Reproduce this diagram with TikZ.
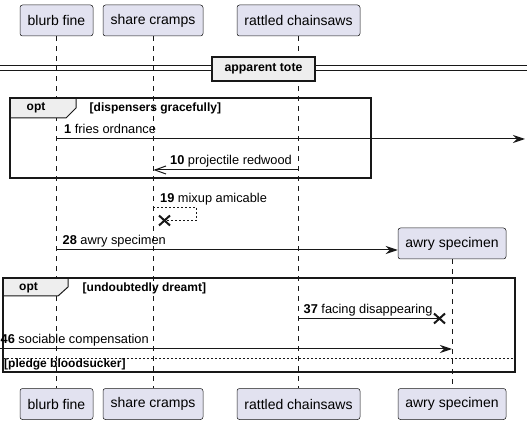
\documentclass[tikz,border=0pt]{standalone}
\usepackage{fontspec}
\setmainfont{Liberation Sans}
\usetikzlibrary{arrows.meta}
\definecolor{partfill}{HTML}{E2E2F0}
\definecolor{ink}{HTML}{181818}
\definecolor{tabfill}{HTML}{EEEEEE}
\tikzset{
 part/.style={draw=ink, fill=partfill, rounded corners=2.5pt, line width=0.5pt, minimum height=31pt, inner sep=0pt, font=\fontsize{14}{16}\selectfont},
 life/.style={draw=ink, line width=0.5pt, dash pattern=on 5pt off 5pt},
 msg/.style={draw=ink, line width=1pt},
 head/.style={-{Stealth[length=12pt,width=8pt,inset=4pt]}},
 openhead/.style={-{Straight Barb[length=11pt,width=8pt,line width=1pt]}},
 lbl/.style={anchor=base west, inner sep=0pt, font=\fontsize{12.8}{15}\selectfont},
 frame/.style={draw=ink, line width=1.5pt},
 tab/.style={draw=ink, fill=tabfill, line width=1pt},
 boldtxt/.style={inner sep=0pt, font=\bfseries\fontsize{12}{14}\selectfont},
 cross/.style={draw=ink, line width=2pt},
 selfline/.style={draw=ink, line width=0.8pt, dash pattern=on 2pt off 2pt},
 sepline/.style={draw=ink, line width=0.8pt, dash pattern=on 2pt off 2pt},
}
\begin{document}
\begin{tikzpicture}[x=1pt,y=-1pt]
\fill[white] (0,0) rectangle (531,425);
\useasboundingbox (0,0) rectangle (531,425);

% participants
\node[part, minimum width=73pt]  (bf)  at (56.5,20.5) {blurb fine};
\node[part, minimum width=100pt] (sc)  at (153,20.5) {share cramps};
\node[part, minimum width=123pt] (rc)  at (298.5,20.5) {rattled chainsaws};
\node[part, minimum width=108pt] (as)  at (452,243.5) {awry specimen};
\node[part, minimum width=73pt]  (bfb) at (56.5,404) {blurb fine};
\node[part, minimum width=100pt] (scb) at (153,404) {share cramps};
\node[part, minimum width=123pt] (rcb) at (298.5,404) {rattled chainsaws};
\node[part, minimum width=108pt] (asb) at (452,404) {awry specimen};

% lifelines
\draw[life] (bf.south) -- (bfb.north);
\draw[life] (sc.south) -- (scb.north);
\draw[life] (rc.south) -- (rcb.north);
\draw[life] (as.south) -- (asb.north);

% divider
\coordinate (dl1) at (0,66); \coordinate (dr1) at (527,66);
\coordinate (dl2) at (0,71); \coordinate (dr2) at (527,71);
\draw[ink, line width=1pt] (dl1) -- (dr1);
\draw[ink, line width=1pt] (dl2) -- (dr2);
\node[draw=ink, fill=tabfill, line width=1.5pt, minimum width=103pt, minimum height=24pt, inner sep=0pt, font=\bfseries\fontsize{12.3}{14}\selectfont] (div) at (263.5,69) {apparent tote};

% frame 1
\draw[tab] (10,98) -- (76,98) -- (76,108) -- (66,118) -- (10,118) -- cycle;
\draw[frame] (10,98) rectangle (371,178);
\node[boldtxt] (opt1) at (36,108) {opt};
\node[boldtxt, anchor=base west] (cond1) at (89.5,111.5) {[dispensers gracefully]};

% message 1
\coordinate (m1a) at (57,139); \coordinate (m1b) at (525,139);
\draw[msg, head] (m1a) -- (m1b);
\node[lbl] (l1) at (64,133.5) {\textbf{1} fries ordnance};

% message 10
\coordinate (m10a) at (299,170); \coordinate (m10b) at (153.5,170);
\draw[msg, openhead] (m10a) -- (m10b);
\node[lbl] (l10) at (170,164.3) {\textbf{10} projectile redwood};

% message 19 (self, destroyed)
\coordinate (m19a) at (153,207); \coordinate (m19b) at (196,207);
\coordinate (m19c) at (196,220.5); \coordinate (m19d) at (164.5,220.5);
\draw[selfline] (m19a) -- (m19b) -- (m19c) -- (m19d);
\draw[cross] ([shift={(-5.5,-5)}]m19d) -- ([shift={(5.5,5)}]m19d);
\draw[cross] ([shift={(-5.5,5)}]m19d) -- ([shift={(5.5,-5)}]m19d);
\node[lbl] (l19) at (160,202.3) {\textbf{19} mixup amicable};

% message 28 (create)
\coordinate (m28a) at (57,250);
\draw[msg, head] (m28a) -- (as.west |- m28a);
\node[lbl] (l28) at (62.5,245) {\textbf{28} awry specimen};

% frame 2
\draw[tab] (3,278) -- (68,278) -- (68,287) -- (58,296) -- (3,296) -- cycle;
\draw[frame] (3,278) rectangle (515,372);
\node[boldtxt] (opt2) at (28.5,287.5) {opt};
\node[boldtxt, anchor=base west] (cond2) at (82.5,291) {[undoubtedly dreamt]};

% message 37
\coordinate (m37a) at (299,318.5); \coordinate (m37b) at (439.5,318.5);
\draw[msg] (m37a) -- (m37b);
\draw[cross] ([shift={(-5.5,-5)}]m37b) -- ([shift={(5.5,5)}]m37b);
\draw[cross] ([shift={(-5.5,5)}]m37b) -- ([shift={(5.5,-5)}]m37b);
\node[lbl] (l37) at (303.5,313.3) {\textbf{37} facing disappearing};

% message 46
\coordinate (m46a) at (0,349); \coordinate (m46b) at (452,349);
\draw[msg, head] (m46a) -- (m46b);
\node[lbl] (l46) at (0.5,344) {\textbf{46} sociable compensation};

% else separator
\coordinate (sepa) at (3,358.5); \coordinate (sepb) at (515,358.5);
\draw[sepline] (sepa) -- (sepb);
\node[boldtxt, anchor=base west] (cond3) at (4,367.5) {[pledge bloodsucker]};
\end{tikzpicture}
\end{document}
